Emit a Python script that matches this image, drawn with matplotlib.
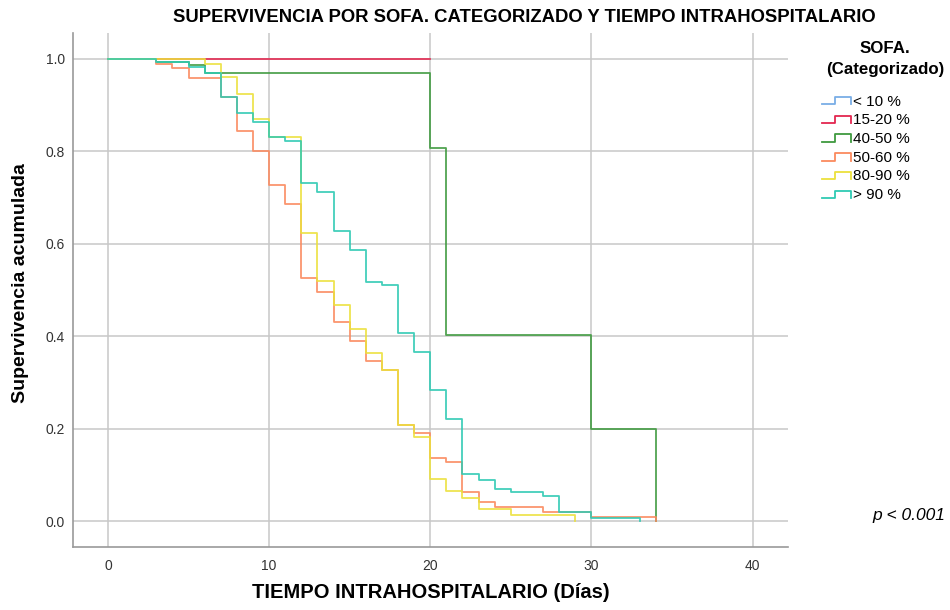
import matplotlib
matplotlib.use("Agg")
import matplotlib.pyplot as plt
from matplotlib.lines import Line2D
from matplotlib.legend_handler import HandlerLine2D

plt.rcParams['font.family'] = ['Liberation Sans', 'DejaVu Sans']

# Kaplan-Meier curves (days, cumulative survival)
groups = ['< 10 %', '15-20 %', '40-50 %', '50-60 %', '80-90 %', '> 90 %']
colors = ['#79aee6', '#e3264f', '#3f9a3f', '#fb8a5e', '#ece13d', '#2fcab3']

t_lt10 = [0, 3]
s_lt10 = [1.0, 1.0]

t_15_20 = [0, 20]
s_15_20 = [1.0, 1.0]

t_40_50 = [0, 3, 5, 6, 20, 21, 30, 34]
s_40_50 = [1.0, 0.993, 0.987, 0.969, 0.808, 0.403, 0.200, 0.0]

t_50_60 = [0, 3, 4, 5, 7, 8, 9, 10, 11, 12, 13, 14, 15, 16, 17, 18, 19, 20,
           21, 22, 23, 24, 27, 30, 34]
s_50_60 = [1.0, 0.990, 0.980, 0.958, 0.917, 0.845, 0.801, 0.728, 0.686, 0.527,
           0.495, 0.431, 0.390, 0.347, 0.327, 0.208, 0.190, 0.136, 0.127, 0.062,
           0.041, 0.031, 0.020, 0.009, 0.0]

t_80_90 = [0, 6, 7, 8, 9, 10, 12, 13, 14, 15, 16, 17, 18, 19, 20, 21, 22, 23,
           25, 29]
s_80_90 = [1.0, 0.988, 0.960, 0.924, 0.870, 0.831, 0.624, 0.520, 0.468, 0.415,
           0.363, 0.327, 0.208, 0.182, 0.091, 0.065, 0.051, 0.027, 0.013, 0.0]

t_gt90 = [0, 3, 5, 6, 7, 8, 9, 10, 11, 12, 13, 14, 15, 16, 17, 18, 19, 20, 21,
          22, 23, 24, 25, 27, 28, 30, 33]
s_gt90 = [1.0, 0.993, 0.982, 0.969, 0.918, 0.884, 0.864, 0.830, 0.822, 0.732,
          0.711, 0.628, 0.587, 0.518, 0.511, 0.408, 0.366, 0.283, 0.221, 0.102,
          0.089, 0.069, 0.062, 0.054, 0.020, 0.007, 0.0]

times = [t_lt10, t_15_20, t_40_50, t_50_60, t_80_90, t_gt90]
survs = [s_lt10, s_15_20, s_40_50, s_50_60, s_80_90, s_gt90]

xticks = [0, 10, 20, 30, 40]
yticks = [0.0, 0.2, 0.4, 0.6, 0.8, 1.0]


class StepHandler(HandlerLine2D):
    # legend key drawn as a little step, like the SPSS output
    def create_artists(self, legend, orig_handle, xdescent, ydescent,
                       width, height, fontsize, trans):
        x0 = -xdescent
        y0 = -ydescent
        lo = y0 + height * 0.1
        hi = y0 + height * 0.8
        xs = [x0, x0 + width * 0.45, x0 + width * 0.45, x0 + width, x0 + width]
        ys = [lo, lo, hi, hi, lo]
        ln = Line2D(xs, ys, color=orig_handle.get_color(), lw=1.3)
        ln.set_transform(trans)
        return [ln]


fig = plt.figure(figsize=(9.5, 6.1), dpi=100)
ax = fig.add_axes([0.0768, 0.1033, 0.7527, 0.8426])

handles = []
for name, col, t, s in zip(groups, colors, times, survs):
    h, = ax.step(t, s, where='post', color=col, lw=1.3, alpha=0.9, label=name)
    handles.append(h)

ax.set_xlim(-2.17, 42.2)
ax.set_ylim(-0.056, 1.056)
ax.set_xticks(xticks)
ax.set_xticklabels([str(v) for v in xticks])
ax.set_yticks(yticks)
ax.set_yticklabels(['%.1f' % v for v in yticks])
ax.grid(True, color='#c8c8c8', lw=1.1)
ax.set_axisbelow(True)
ax.tick_params(length=0, labelsize=10, labelcolor='#333333')
ax.tick_params(axis='x', pad=9)
ax.tick_params(axis='y', pad=6)
for side in ['top', 'right']:
    ax.spines[side].set_visible(False)
for side in ['left', 'bottom']:
    ax.spines[side].set_color('#9a9a9a')
    ax.spines[side].set_linewidth(1.2)

fig.text(0.552, 0.971, 'SUPERVIVENCIA POR SOFA. CATEGORIZADO Y TIEMPO INTRAHOSPITALARIO',
         ha='center', va='center', fontsize=13.3, fontweight='bold')
fig.text(0.453, 0.028, 'TIEMPO INTRAHOSPITALARIO (Días)', ha='center',
         va='center', fontsize=14.5, fontweight='bold')
fig.text(0.022, 0.536, 'Supervivencia acumulada', ha='center', va='center',
         rotation=90, fontsize=14, fontweight='bold')

fig.text(0.9316, 0.903, 'SOFA.\n(Categorizado)', ha='center', va='center',
         fontsize=12.2, fontweight='bold', linespacing=1.45)
leg = fig.legend(handles=handles, labels=groups, loc='upper left',
                 bbox_to_anchor=(0.8653, 0.845), frameon=False,
                 fontsize=11, handler_map={Line2D: StepHandler()},
                 handlelength=1.9, handletextpad=0.15, labelspacing=0.31,
                 borderpad=0, borderaxespad=0)

fig.text(0.995, 0.155, 'p < 0.001', ha='right', va='center', fontsize=12.5,
         fontstyle='italic')

fig.savefig('out.png', dpi=100)
